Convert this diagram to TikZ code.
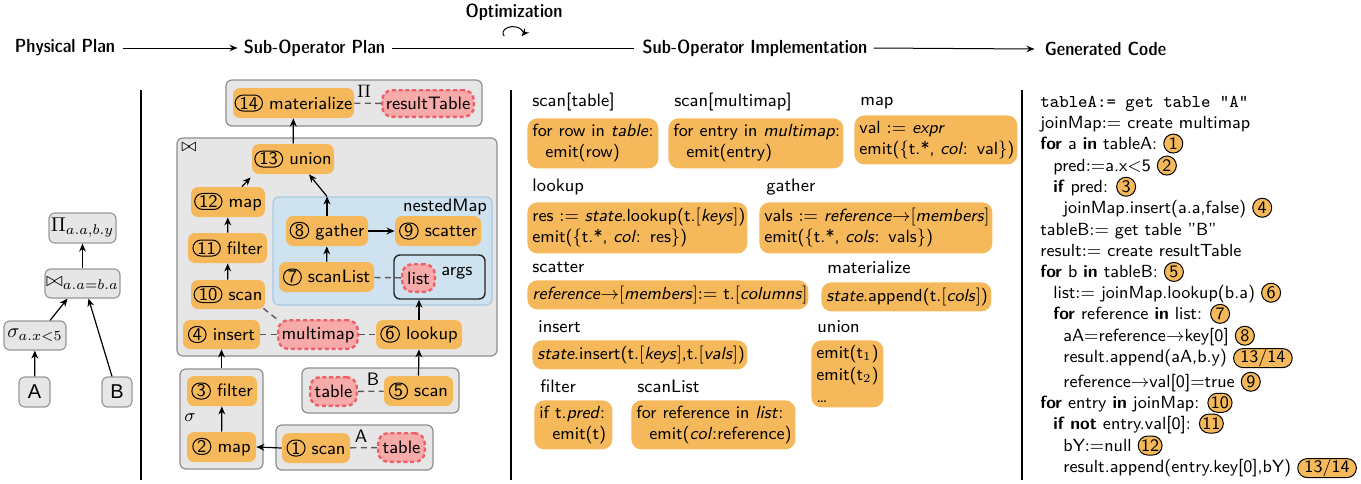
\documentclass[tikz,border=0pt]{standalone}
\usepackage{fontspec}
\newfontfamily\helv{Liberation Sans}
\renewcommand{\familydefault}{\sfdefault}
\usetikzlibrary{shapes.misc,arrows.meta}

\definecolor{opfill}{HTML}{F5B95C}
\definecolor{datfill}{HTML}{F7AAAA}
\definecolor{datdraw}{HTML}{EE5F66}
\definecolor{grpfill}{HTML}{E6E6E6}
\definecolor{grpdraw}{HTML}{8E8E8E}
\definecolor{nestfill}{HTML}{CFE2F0}
\definecolor{nestdraw}{HTML}{A8C8E2}

\tikzset{
  base/.style={font=\fontsize{9}{10.5}\selectfont},
  cnumst/.style={shape=rounded rectangle, draw=black, solid, line width=0.5pt, fill=none,
    inner xsep=0.8pt, inner ysep=0pt, minimum height=8pt, minimum width=8pt,
    text width={}, text height={}, text depth={}, anchor=center, sharp corners,
    align=center, outer sep=0pt, font=\fontsize{9}{10}\selectfont},
  fnumst/.style={cnumst, fill=opfill, minimum height=9.5pt, minimum width=9.5pt,
    inner xsep=0.4pt, font=\fontsize{8.8}{10}\selectfont},
  op/.style 2 args={base, fill=opfill, draw=none, rounded corners=3.5pt, inner sep=0pt,
    minimum width=#1*0.5pt, minimum height=#2*0.5pt},
  dat/.style 2 args={base, fill=datfill, draw=datdraw, dash pattern=on 2pt off 1.4pt,
    line width=1.2pt, rounded corners=5pt, inner sep=0pt,
    minimum width=#1*0.5pt-1.2pt, minimum height=#2*0.5pt-1.2pt},
  grp/.style 2 args={fill=grpfill, draw=grpdraw, line width=0.6pt, rounded corners=3pt,
    inner sep=0pt, minimum width=#1*0.5pt, minimum height=#2*0.5pt},
  nest/.style 2 args={fill=nestfill, draw=nestdraw, line width=0.6pt, rounded corners=3pt,
    inner sep=0pt, minimum width=#1*0.5pt, minimum height=#2*0.5pt},
  argbox/.style 2 args={fill=nestfill, draw=black!85, line width=0.7pt, rounded corners=3pt,
    inner sep=0pt, minimum width=#1*0.5pt, minimum height=#2*0.5pt},
  pbox/.style 2 args={fill=grpfill, draw=black!40, line width=0.6pt, rounded corners=3pt,
    inner sep=0pt, font=\fontsize{10}{12}\selectfont,
    minimum width=#1*0.5pt, minimum height=#2*0.5pt},
  tag/.style={base, inner sep=0pt},
  arr/.style={-{Stealth[length=4pt,width=3.4pt]}, line width=0.6pt},
  dcon/.style={dash pattern=on 3pt off 2.2pt, line width=0.7pt, black!65},
  hdr/.style={font=\fontsize{9.5}{11}\fontseries{sbc}\selectfont, inner sep=0pt},
  harr/.style={-{Stealth[length=4pt,width=3.2pt]}, line width=0.5pt},
  hline/.style={line width=0.5pt},
  lbl/.style={base, anchor=west, inner sep=0pt, text height=6.5pt, text depth=2pt},
  ibox/.style n args={3}{font=\fontsize{8.8}{10.5}\selectfont, fill=opfill,
    rounded corners=5pt, anchor=north west,
    inner xsep=2.5pt, inner ysep=0pt, text width=#1, minimum height=#2, align=left,
    execute at begin node={\setlength{\baselineskip}{#3}}},
  code/.style={font=\fontsize{8.8}{10.5}\selectfont, anchor=west, inner sep=0pt,
    text height=6.5pt, text depth=2pt},
}
\newcommand{\cnum}[1]{\tikz[baseline=(cn.base)]\node[cnumst](cn){#1};}
\newcommand{\fnum}[1]{\tikz[baseline=(fn.base)]\node[fnumst](fn){#1};}
\newcommand{\refto}{${\rightarrow}$}

\begin{document}
\begin{tikzpicture}[x=0.5pt,y=-0.5pt]
\useasboundingbox (0,0) rectangle (1361,483);

% ---------- pipeline headings ----------
\node[hdr] (h1) at (65,48) {Physical Plan};
\node[hdr] (h2) at (314.5,48) {Sub-Operator Plan};
\node[hdr] (h3) at (755,48) {Sub-Operator Implementation};
\node[hdr] (h4) at (1105.5,49) {Generated Code};
\node[hdr] (opt) at (514,12) {Optimization};
\draw[harr] ([xshift=3.5pt]h1.east) -- ([xshift=-3pt]h2.west);
\draw[hline] ([xshift=3.5pt]h2.east) -- ([xshift=-4pt]h3.west);
\draw[harr] ([xshift=3pt]h3.east) -- ([xshift=-5pt]h4.west);
\coordinate (loopstart) at (504.3,36.2);
\draw[harr] (loopstart) arc[start angle=210, end angle=-30, x radius=5pt, y radius=3.2pt];

% ---------- column separators ----------
\draw[line width=0.6pt] (141,90) -- (141,480);
\draw[line width=0.6pt] (511,90) -- (511,480);
\draw[line width=0.6pt] (1022,90) -- (1022,480);

% ---------- physical plan ----------
\node[pbox={67}{30}] (pPi) at (82.5,228) {$\Pi_{a.a,b.y}$};
\node[pbox={75}{29}] (pJ) at (82.5,283.5) {$\bowtie_{a.a=b.a}$};
\node[pbox={62}{29}] (pS) at (35,335.5) {$\sigma_{a.x<5}$};
\node[pbox={31}{30}] (pA) at (34.5,392) {\helv A};
\node[pbox={30}{30}] (pB) at (117,392) {\helv B};
\draw[arr] (pA) -- (pS);
\draw[arr] ([xshift=7.5pt]pS.north) -- ([xshift=-7.5pt]pJ.south);
\draw[arr] ([xshift=-2.5pt]pB.north) -- ([xshift=3pt]pJ.south);
\draw[arr] (pJ) -- (pPi);

% ---------- sub-operator plan: groups ----------
\node[grp={256}{46}] (gPi) at (354,103) {};
\node[grp={320}{218}] (gJoin) at (337,247) {};
\node[nest={219}{108}] (gNest) at (382.5,251) {};
\node[argbox={91}{44}] (gArgs) at (439.5,277) {};
\node[grp={157}{45}] (gB) at (380.5,390.5) {};
\node[grp={83}{100}] (gSig) at (221.5,419) {};
\node[grp={157}{45}] (gA) at (354.5,447.5) {};

\node[tag] (tPi) at (364,91) {$\Pi$};
\node[tag] (tJoin) at (189,147) {$\bowtie$};
\node[tag] (tNest) at (445,207) {nestedMap};
\node[tag] (tArgs) at (457,273) {args};
\node[tag] (tB) at (373,379) {B};
\node[tag] (tA) at (361,436) {A};
\node[tag] (tSig) at (190,418) {$\sigma$};

% ---------- sub-operator plan: operators and state ----------
\node[op={121}{30}] (m14) at (293.5,103) {\cnum{14} materialize};
\node[dat={94}{29}] (rt) at (428,103.5) {resultTable};
\node[op={82}{30}] (u13) at (293,159) {\cnum{13} union};
\node[op={74}{30}] (m12) at (228,202) {\cnum{12} map};
\node[op={79}{30}] (f11) at (227.5,248) {\cnum{11} filter};
\node[op={74}{29}] (s10) at (228,294.5) {\cnum{10} scan};
\node[op={77}{29}] (i4) at (221.5,334.5) {\cnum{4} insert};
\node[dat={82}{31}] (mm) at (318,334.5) {multimap};
\node[op={86}{29}] (l6) at (419,334.5) {\cnum{6} lookup};
\node[op={82}{30}] (g8) at (327,231) {\cnum{8} gather};
\node[op={86}{30}] (sc9) at (438,231) {\cnum{9} scatter};
\node[op={95}{30}] (sl7) at (326.5,277) {\cnum{7} scanList};
\node[dat={35}{30}] (li) at (418.5,278) {list};
\node[dat={49}{31}] (tb) at (333.5,391.5) {table};
\node[op={69}{30}] (s5) at (418.5,391) {\cnum{5} scan};
\node[op={70}{30}] (f3) at (222,391) {\cnum{3} filter};
\node[op={69}{30}] (m2) at (221.5,447) {\cnum{2} map};
\node[op={68}{30}] (s1) at (316,448) {\cnum{1} scan};
\node[dat={49}{31}] (ta) at (401.5,447.5) {table};

% state links
\draw[dcon] (m14) -- (rt);
\draw[dcon] (i4) -- (mm);
\draw[dcon] (mm) -- (l6);
\draw[dcon] (sl7) -- (li);
\draw[dcon] (tb) -- (s5);
\draw[dcon] (s1) -- (ta);
\draw[dcon] ([shift={(-1pt,0.5pt)}]s10.south east) -- ([shift={(0.5pt,-0.5pt)}]mm.north west);

% data flow
\draw[arr] (s1.west) -- (m2.east);
\draw[arr] (m2) -- (f3);
\draw[arr] (gSig.north) -- (i4.south);
\draw[arr] (s5.north) -- (l6.south);
\draw[arr] (l6.north) -- (l6.north |- gArgs.south);
\draw[arr] (s10) -- (f11);
\draw[arr] (f11) -- (m12);
\draw[arr] ([xshift=7pt]m12.north) -- ([shift={(-0.5pt,-1.5pt)}]u13.south west);
\coordinate (nestTop) at (g8.north |- gNest.north);
\draw[arr] (g8) -- (nestTop);
\draw[arr] (nestTop) -- ([xshift=8pt]u13.south);
\draw[arr] (g8) -- (sc9);
\draw[arr] (sl7) -- (g8);
\draw[arr] (u13) -- (m14);

% ---------- sub-operator implementations ----------
\node[lbl] (lb1) at (532,102) {scan[table]};
\node[ibox={60.5pt}{25pt}{10.5pt}] (b1) at (527,118)
  {\mbox{for row in \textit{table}:}\\\mbox{\hspace*{6.5pt}emit(row)}};
\node[lbl] (lb2) at (674,102) {scan[multimap]};
\node[ibox={82.5pt}{25pt}{10.5pt}] (b2) at (668,118)
  {\mbox{for entry in \textit{multimap}:}\\\mbox{\hspace*{6.5pt}emit(entry)}};
\node[lbl] (lb3) at (860,101) {map};
\node[ibox={76.5pt}{24.5pt}{10.5pt}] (b3) at (854,115)
  {\mbox{val $:=$ \textit{expr}}\\\mbox{emit($\{$t.*, \textit{col}: val$\}$)}};
\node[lbl] (lb4) at (532,187) {lookup};
\node[ibox={105pt}{25.5pt}{10.5pt}] (b4) at (527,202)
  {\mbox{res $:=$ \textit{state}.lookup(t.$[$\textit{keys}$]$)}\\\mbox{emit($\{$t.*, \textit{col}: res$\}$)}};
\node[lbl] (lb5) at (766,187) {gather};
\node[ibox={111.5pt}{25.5pt}{10.5pt}] (b5) at (759,202)
  {\mbox{vals $:=$ \textit{reference}\refto$[$\textit{members}$]$}\\\mbox{emit($\{$t.*, \textit{cols}: vals$\}$)}};
\node[lbl] (lb6) at (532,268) {scatter};
\node[ibox={135.5pt}{14.5pt}{10.5pt}] (b6) at (527,280)
  {\mbox{\textit{reference}\refto$[$\textit{members}$]{:=}$ t.$[$\textit{columns}$]$}};
\node[lbl] (lb7) at (827,269) {materialize};
\node[ibox={80pt}{14.5pt}{10.5pt}] (b7) at (821,282)
  {\mbox{\textit{state}.append(t.$[$\textit{cols}$]$)}};
\node[lbl] (lb8) at (538,328) {insert};
\node[ibox={102.5pt}{14.5pt}{10.5pt}] (b8) at (532,340)
  {\mbox{\textit{state}.insert(t.$[$\textit{keys}$]$,t.$[$\textit{vals}$]$)}};
\node[lbl] (lb9) at (817,328) {union};
\node[ibox={31pt}{33.5pt}{11.2pt}] (b9) at (811,340)
  {\mbox{emit(t$_1$)}\\\mbox{emit(t$_2$)}\\\ldots};
\node[lbl] (lb10) at (540,388) {filter};
\node[ibox={34pt}{24.5pt}{10.5pt}] (b10) at (534,400)
  {\mbox{if t.\textit{pred}:}\\\mbox{\hspace*{6.5pt}emit(t)}};
\node[lbl] (lb11) at (637,388) {scanList};
\node[ibox={77pt}{24.5pt}{10.5pt}] (b11) at (631,400)
  {\mbox{for reference in \textit{list}:}\\\mbox{\hspace*{6.5pt}emit(\textit{col}:reference)}};

% ---------- generated code ----------
\node[code] (c1) at (1040,103) {\fontsize{9}{10.5}\ttfamily tableA:= get table "A"};
\node[code] (c2) at (1040,124) {joinMap$:=$ create multimap};
\node[code] (c3) at (1040,145) {\textbf{for} a \textbf{in} tableA: \fnum{1}};
\node[code] (c4) at (1053,167) {pred$:=$a.x$<$5 \fnum{2}};
\node[code] (c5) at (1053,188) {\textbf{if} pred: \fnum{3}};
\node[code] (c6) at (1063,209) {joinMap.insert(a.a,false) \fnum{4}};
\node[code] (c7) at (1040,231) {tableB$:=$ get table ''B''};
\node[code] (c8) at (1040,252) {result$:=$ create resultTable};
\node[code] (c9) at (1040,273) {\textbf{for} b \textbf{in} tableB: \fnum{5}};
\node[code] (c10) at (1053,294) {list$:=$ joinMap.lookup(b.a) \fnum{6}};
\node[code] (c11) at (1053,315) {\textbf{for} reference \textbf{in} list: \fnum{7}};
\node[code] (c12) at (1063,337) {aA$=$reference\refto key[0] \fnum{8}};
\node[code] (c13) at (1063,358) {result.append(aA,b.y) \fnum{13/14}};
\node[code] (c14) at (1063,383) {reference\refto val[0]$=$true \fnum{9}};
\node[code] (c15) at (1040,404) {\textbf{for} entry \textbf{in} joinMap: \fnum{10}};
\node[code] (c16) at (1053,425) {\textbf{if not} entry.val[0]: \fnum{11}};
\node[code] (c17) at (1063,447) {bY$:=$null \fnum{12}};
\node[code] (c18) at (1063,468) {result.append(entry.key[0],bY) \fnum{13/14}};
\end{tikzpicture}
\end{document}
